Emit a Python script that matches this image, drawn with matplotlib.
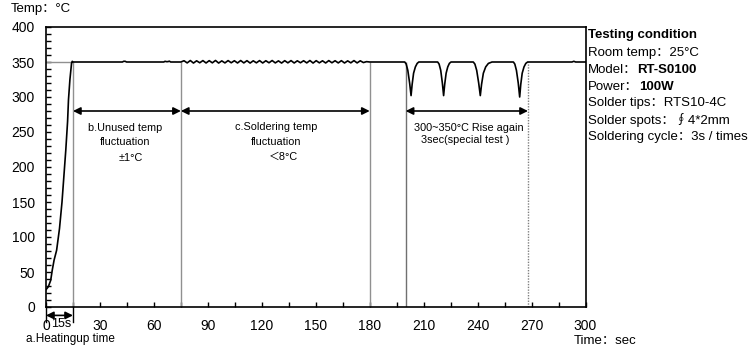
import numpy as np
import matplotlib.pyplot as plt

plt.rcParams['font.family'] = ['Liberation Sans', 'Noto Sans CJK SC', 'DejaVu Sans']

# heat-up from room temperature (0-15 s)
heat_t = [0, 0.4, 1.3, 2.6, 3.5, 4.5, 5.9, 7.5, 8.9, 10, 11, 12, 12.5, 13.3, 14.2, 14.6, 15]
heat_T = [25, 26, 29, 38, 53, 67, 81, 112, 150, 188, 224, 265, 296, 325, 348, 351, 350]

# idle hold (15-75 s)
idle_t = [15, 16, 42.5, 43.2, 44, 44.8, 65.5, 66.2, 66.9, 67.8, 68.6, 69.3, 75]
idle_T = [350, 350, 350, 351, 351, 350, 350, 351, 350.5, 350.5, 351.2, 350, 350]

# soldering every 3 s (75-180 s)
sold_T = [350, 351.8, 348.7, 352.1, 348.5, 351.7, 348.9, 352.0, 348.6, 351.9,
          348.8, 352.2, 348.5, 351.6, 348.7, 352.0, 348.9, 351.8, 348.6, 352.1,
          348.7, 351.9, 348.5, 351.7, 348.8, 352.0, 348.6, 351.8, 348.9, 352.1,
          348.7, 351.6, 348.5, 351.9, 348.8, 352.0, 348.6, 351.7, 348.9, 351.8,
          348.7, 352.1, 348.5, 351.9, 348.8, 351.7, 348.6, 352.0, 348.9, 351.8,
          348.7, 351.9, 348.6, 351.6, 348.8, 352.0, 348.7, 351.7, 349.2, 350.5, 350]
sold_t = np.linspace(75, 180, len(sold_T))

# special test: drop to ~300 and recover (180-300 s)
tail_t = [180, 199.5, 200.3, 201.2, 202.2, 203.0, 203.6, 204.4, 205.4, 206.4, 207.3,
          217.8, 218.6, 219.5, 220.4, 221.1, 221.7, 222.5, 223.4, 224.3, 225.2,
          237.6, 238.5, 239.5, 240.6, 241.5, 242.2, 243.2, 244.5, 246, 248,
          259.9, 260.7, 261.6, 262.6, 263.4, 264.0, 264.8, 265.8, 266.8, 267.8,
          292.5, 293.5, 294.5, 300]
tail_T = [350, 350, 347, 338, 320, 302, 318, 334, 343, 348, 350,
          350, 347, 338, 320, 302, 318, 334, 343, 348, 350,
          350, 347, 338, 320, 302, 318, 334, 343, 348, 350,
          350, 347, 338, 320, 300, 318, 334, 343, 348, 350,
          350, 351, 350, 350]

t = np.concatenate([heat_t, idle_t, sold_t, tail_t])
T = np.concatenate([heat_T, idle_T, sold_T, tail_T])

marks = [15, 75, 180]
end_mark = 268
arrow_T = 280

fig = plt.figure(figsize=(7.52, 3.5), dpi=100)
ax = fig.add_axes([46/752, 43/350, 539.5/752, 280/350])

ax.plot([0, 15], [350, 350], color='#909090', lw=1)
ax.vlines(marks, 0, 350, color='#909090', lw=1)
ax.vlines(200, 0, 350, color='#707070', lw=1)
ax.vlines(end_mark, 0, 350, color='#808080', lw=1, linestyles=(0, (1, 1)))
ax.plot(t, T, color='black', lw=1.2)

ap = dict(arrowstyle='<|-|>', color='black', lw=1.2, shrinkA=0, shrinkB=0, mutation_scale=11)
for a, b in [(15, 75), (75, 180), (200, end_mark)]:
    ax.annotate('', xy=(a, arrow_T), xytext=(b, arrow_T), arrowprops=ap)

# heat-up span under the axis
ax.annotate('', xy=(0, -12), xytext=(15, -12), arrowprops=ap, annotation_clip=False)
for x in [0, 15]:
    ax.plot([x, x], [0, -22], color='black', lw=1, clip_on=False)
ax.text(8.6, -24, '15s', ha='center', va='center', fontsize=9)

fs = 7.8
ax.text(44, 256, 'b.Unused temp', ha='center', va='center', fontsize=fs)
ax.text(44, 235, 'fluctuation', ha='center', va='center', fontsize=fs)
ax.text(47, 213, '±1°C', ha='center', va='center', fontsize=fs)
ax.text(128, 257, 'c.Soldering temp', ha='center', va='center', fontsize=fs)
ax.text(128, 236, 'fluctuation', ha='center', va='center', fontsize=fs)
ax.text(132, 214, '＜8°C', ha='center', va='center', fontsize=fs)
ax.text(235, 256, '300~350°C Rise again', ha='center', va='center', fontsize=fs)
ax.text(233, 238, '3sec(special test )', ha='center', va='center', fontsize=fs)

ax.set_xlim(0, 300)
ax.set_ylim(0, 400)
ax.set_xticks(range(0, 301, 30))
ax.set_xticks(range(0, 301, 15), minor=True)
ax.set_yticks(range(0, 401, 50))
ax.set_yticks(range(0, 401, 10), minor=True)
ax.tick_params(which='both', direction='in', length=3.5, width=1)
ax.tick_params(axis='x', pad=8.5, labelsize=10)
ax.tick_params(axis='y', pad=8, labelsize=10)
for s in ax.spines.values():
    s.set_linewidth(1.2)

fig.text(11/752, 1 - 9/350, 'Temp：°C', ha='left', va='center', fontsize=9.5)
fig.text(26/752, 1 - 339/350, 'a.Heatingup time', ha='left', va='center', fontsize=8.5)
fig.text(574/752, 1 - 341/350, 'Time：sec', ha='left', va='center', fontsize=9.5)

x0 = 588/752
fig.text(x0, 1 - 35/350, 'Testing condition', ha='left', va='center', fontsize=9.5, fontweight='bold')
fig.text(x0, 1 - 53/350, 'Room temp：25°C', ha='left', va='center', fontsize=9.5)
m = fig.text(x0, 1 - 70/350, 'Model：', ha='left', va='center', fontsize=9.5)
ax.annotate('RT-S0100', xy=(1, 0.5), xycoords=m, ha='left', va='center',
            fontsize=9.5, fontweight='bold', annotation_clip=False)
p = fig.text(x0, 1 - 87/350, 'Power：', ha='left', va='center', fontsize=9.5)
ax.annotate('100W', xy=(1, 0.5), xycoords=p, ha='left', va='center',
            fontsize=9.5, fontweight='bold', annotation_clip=False)
fig.text(x0, 1 - 103/350, 'Solder tips：RTS10-4C', ha='left', va='center', fontsize=9.5)
fig.text(x0, 1 - 120/350, 'Solder spots：∮4*2mm', ha='left', va='center', fontsize=9.5)
fig.text(x0, 1 - 137/350, 'Soldering cycle：3s / times', ha='left', va='center', fontsize=9.5)

fig.savefig('out.png', dpi=100)
